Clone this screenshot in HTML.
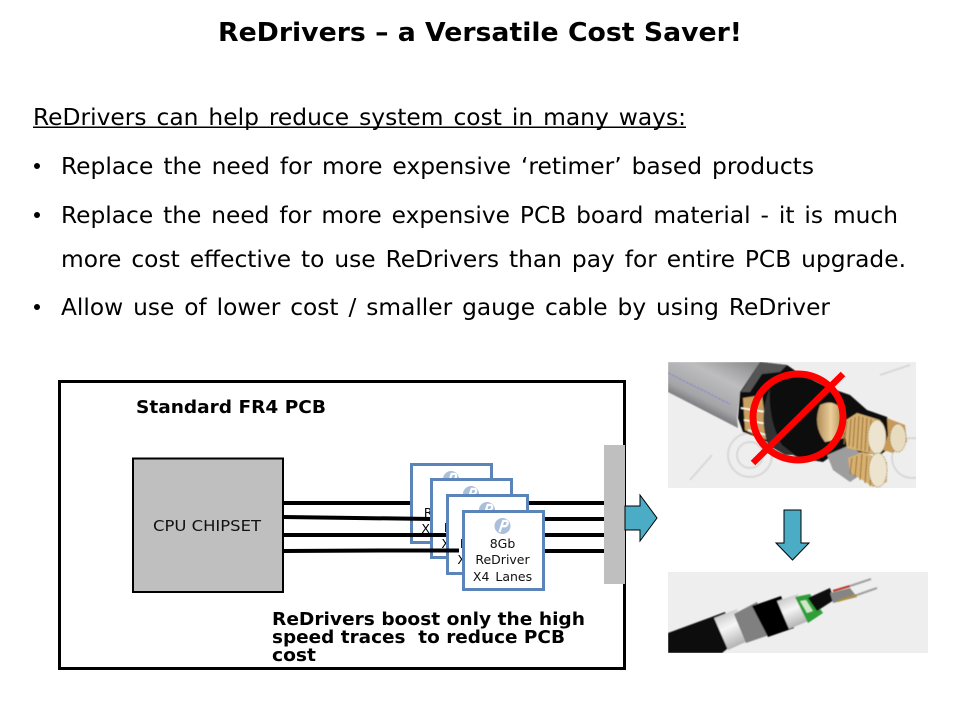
<!DOCTYPE html>
<html><head><meta charset="utf-8"><style>
html,body{margin:0;padding:0;background:#fff;width:960px;height:720px;overflow:hidden}
svg{display:block;font-family:"DejaVu Sans","Liberation Sans",sans-serif;fill:#000}
</style></head><body>
<svg width="960" height="720" viewBox="0 0 960 720" xmlns="http://www.w3.org/2000/svg">
<defs>
<filter id="b"><feGaussianBlur stdDeviation="0.45"/></filter>
<linearGradient id="gj" gradientUnits="userSpaceOnUse" x1="725" y1="350" x2="695" y2="410"><stop offset="0" stop-color="#8f8f90"/><stop offset="0.4" stop-color="#bdbdbf"/><stop offset="0.8" stop-color="#a5a5a8"/><stop offset="1" stop-color="#6f6f72"/></linearGradient>
<linearGradient id="cu" x1="0" y1="0" x2="1" y2="0"><stop offset="0" stop-color="#b08c58"/><stop offset="0.5" stop-color="#eccf9c"/><stop offset="1" stop-color="#a87f48"/></linearGradient>
<linearGradient id="wb" x1="0.2" y1="0" x2="0.6" y2="1"><stop offset="0" stop-color="#bdbdbd"/><stop offset="0.45" stop-color="#f6f6f6"/><stop offset="1" stop-color="#a8a8a8"/></linearGradient>
<clipPath id="c1"><rect x="668" y="362" width="248" height="126"/></clipPath>
<clipPath id="c2"><rect x="668" y="572" width="260" height="81"/></clipPath>
<g id="logo"><circle r="8" fill="#a9bfdc"/><path d="M-3 6 L1 -6 M1 -5 Q6 -6 5 -2 Q4 1 0 0" stroke="#fff" stroke-width="2.2" fill="none"/></g>
</defs>

<text x="218" y="41" font-size="26" font-weight="700" textLength="524" lengthAdjust="spacingAndGlyphs">ReDrivers – a Versatile Cost Saver!</text>

<g font-size="23" word-spacing="2.5">
<text x="33" y="125" textLength="653" lengthAdjust="spacingAndGlyphs">ReDrivers can help reduce system cost in many ways:</text>
<text x="61" y="174" textLength="753" lengthAdjust="spacingAndGlyphs">Replace the need for more expensive ‘retimer’ based products</text>
<text x="61" y="223" textLength="837" lengthAdjust="spacingAndGlyphs">Replace the need for more expensive PCB board material - it is much</text>
<text x="61" y="267" textLength="845" lengthAdjust="spacingAndGlyphs">more cost effective to use ReDrivers than pay for entire PCB upgrade.</text>
<text x="61" y="315" textLength="769" lengthAdjust="spacingAndGlyphs">Allow use of lower cost / smaller gauge cable by using ReDriver</text>
</g>
<rect x="33" y="126.5" width="653" height="1.5"/>
<circle cx="37" cy="166" r="3"/>
<circle cx="37" cy="215" r="3"/>
<circle cx="37" cy="307" r="3"/>

<rect x="59.5" y="381.5" width="565" height="287" fill="#fff" stroke="#000" stroke-width="3"/>
<text x="136" y="413" font-size="18" font-weight="700" textLength="190" lengthAdjust="spacingAndGlyphs">Standard FR4 PCB</text>

<rect x="133" y="458.5" width="150" height="133.5" fill="#bfbfbf" stroke="#000" stroke-width="2"/>
<text x="153" y="531" font-size="15" fill="#111" textLength="108" lengthAdjust="spacingAndGlyphs">CPU CHIPSET</text>

<rect x="604" y="445" width="21" height="139" fill="#bfbfbf"/>

<!-- traces -->
<g stroke="#000" stroke-width="4" fill="none">
<path d="M284 503H412"/>
<path d="M528 503H604"/>
<path d="M544 519H604"/>
<path d="M544 535H604"/>
<path d="M544 551H604"/>
</g>

<!-- chip 1 -->
<rect x="411.5" y="464.5" width="80" height="78" fill="#fff" stroke="#5b85b8" stroke-width="3"/>
<use href="#logo" x="451" y="479"/>
<g font-size="12.5" text-anchor="middle"><text x="451" y="501">8Gb</text><text x="451" y="517">ReDriver</text><text x="451" y="533" word-spacing="2">X4 Lanes</text></g>
<path d="M284 517L432 519" stroke="#000" stroke-width="4"/>

<!-- chip 2 -->
<rect x="431.5" y="479.5" width="80" height="78" fill="#fff" stroke="#5b85b8" stroke-width="3"/>
<use href="#logo" x="471" y="494"/>
<g font-size="12.5" text-anchor="middle"><text x="471" y="516">8Gb</text><text x="471" y="532">ReDriver</text><text x="471" y="548" word-spacing="2">X4 Lanes</text></g>
<path d="M284 535H448" stroke="#000" stroke-width="4"/>

<!-- chip 3 -->
<rect x="447.5" y="495.5" width="80" height="78" fill="#fff" stroke="#5b85b8" stroke-width="3"/>
<use href="#logo" x="487" y="510"/>
<g font-size="12.5" text-anchor="middle"><text x="487" y="532">8Gb</text><text x="487" y="548">ReDriver</text><text x="487" y="564" word-spacing="2">X4 Lanes</text></g>
<path d="M284 551L380 550.5H459" stroke="#000" stroke-width="4" fill="none"/>

<!-- chip 4 -->
<rect x="463.5" y="511.5" width="80" height="78" fill="#fff" stroke="#5b85b8" stroke-width="3"/>
<use href="#logo" x="502.5" y="526"/>
<g font-size="12.5" text-anchor="middle" fill="#111"><text x="502.5" y="548">8Gb</text><text x="502.5" y="564">ReDriver</text><text x="502.5" y="581" word-spacing="2">X4 Lanes</text></g>

<g font-size="18" font-weight="700">
<text x="272" y="625" textLength="313" lengthAdjust="spacingAndGlyphs">ReDrivers boost only the high</text>
<text x="272" y="643" textLength="293" lengthAdjust="spacingAndGlyphs">speed traces&#160;&#160;to reduce PCB</text>
<text x="272" y="661" textLength="44" lengthAdjust="spacingAndGlyphs">cost</text>
</g>

<!-- arrows -->
<path d="M625 506H640V495L657 518L640 541V530H625Z" fill="#4bacc6" stroke="#000" stroke-width="1"/>
<path d="M784 510H801V543H809L792.5 560L776 543H784Z" fill="#4bacc6" stroke="#000" stroke-width="1"/>

<!-- cable 1 -->
<g clip-path="url(#c1)">
<rect x="668" y="362" width="248" height="126" fill="#eeeeee"/>
<g filter="url(#b)">
<g fill="none" stroke="#d8d8d8" stroke-width="2">
<circle cx="750" cy="455" r="22"/><circle cx="750" cy="455" r="13"/>
<circle cx="912" cy="458" r="20"/><path d="M690 480L712 455M880 375L910 365M715 390L735 370"/>
</g>
<path d="M668 362H760L740 392L737 418L738 428L668 392Z" fill="url(#gj)"/>
<path d="M668 373L730 404" stroke="#8f8fc8" stroke-width="1.5" stroke-dasharray="3 1"/>
<path d="M760 362L787 365L797 372L827 387L850 395L867 410L887 417L900 440L880 455L840 450L823 462L800 458L777 448L760 438L743 432L738 418L740 392Z" fill="#0b0b0b"/>
<path d="M760 362L787 365L780 372L762 374L750 392L741 392Z" fill="#555"/>
<path d="M743 398L762 395L768 440L760 438L745 430Z" fill="#c9a060"/>
<path d="M741 408L766 412M744 420L768 424M748 430L770 436" stroke="#fff" stroke-width="1.6"/>
<path d="M770 388Q768 420 782 445L795 455L785 455L768 445Q758 415 770 388Z" fill="#333"/>
<path d="M820 405Q835 398 843 412L845 438L825 442Q812 425 820 405Z" fill="url(#cu)"/>
<path d="M827 455L850 445L860 453L868 470L850 482L833 470Z" fill="#9d9d9d"/>
<path d="M843 422L857 413L880 420L884 440L877 455L847 448Z" fill="#d8b070"/>
<path d="M847 421L844 444M851 419L849 446M855 417L853 447M859 416L857 449M863 417L861 450M867 418L865 451M871 419L869 452" stroke="#94703a" stroke-width="1"/>
<ellipse cx="877" cy="437" rx="9" ry="17" fill="#ece4cf" stroke="#a08040" stroke-width=".7" stroke-dasharray="2 1"/>
<path d="M887 418L905 425L907 442L893 453L883 450L888 435Z" fill="#c89a58"/>
<ellipse cx="898" cy="438" rx="8" ry="14" fill="#e8dcc0" stroke="#a08040" stroke-width=".7" stroke-dasharray="2 1"/>
<path d="M848 458L863 452L887 462L887 482L873 487L850 472Z" fill="#d8b070"/>
<path d="M852 458L850 474M857 456L855 477M862 454L860 480M867 456L865 483M872 458L870 486" stroke="#94703a" stroke-width="1"/>
<ellipse cx="878" cy="470" rx="9" ry="17" fill="#ece4cf" stroke="#a08040" stroke-width=".7" stroke-dasharray="2 1"/>
</g>
<ellipse cx="798" cy="417" rx="45" ry="43" fill="none" stroke="#f00" stroke-width="7"/>
<path d="M753 463L843 374" stroke="#f00" stroke-width="6.5"/>
</g>

<!-- cable 2 -->
<g clip-path="url(#c2)">
<rect x="668" y="572" width="260" height="81" fill="#eeeeee"/>
<g filter="url(#b)">
<path d="M668 633L725 612L738 640L722 653H668Z" fill="#0a0a0a"/>
<path d="M714 618L737 609L750 640L728 650Z" fill="url(#wb)"/>
<path d="M734 614L757 602L772 634L746 643Z" fill="#808080"/>
<path d="M752 606L781 596L794 628L768 637Z" fill="#060606"/>
<path d="M777 601L798 594L811 620L789 629Z" fill="url(#wb)"/>
<path d="M795 597L810 594L823 613L808 623Z" fill="#2f9e37"/>
<path d="M800 601L806 600L813 611L807 613Z" fill="#cfe8c8"/>
<path d="M808 598L830 588L834 600L817 611Z" fill="#0c0c0c"/>
<path d="M830 593L850 588L857 597L833 603Z" fill="#858585"/>
<path d="M833 591L850 586" stroke="#c03020" stroke-width="2"/>
<path d="M838 601L857 595" stroke="#b09030" stroke-width="2"/>
<path d="M850 586L871 579M857 595L877 588" stroke="#a0a0a0" stroke-width="2"/>
</g>
</g>
</svg>
</body></html>
